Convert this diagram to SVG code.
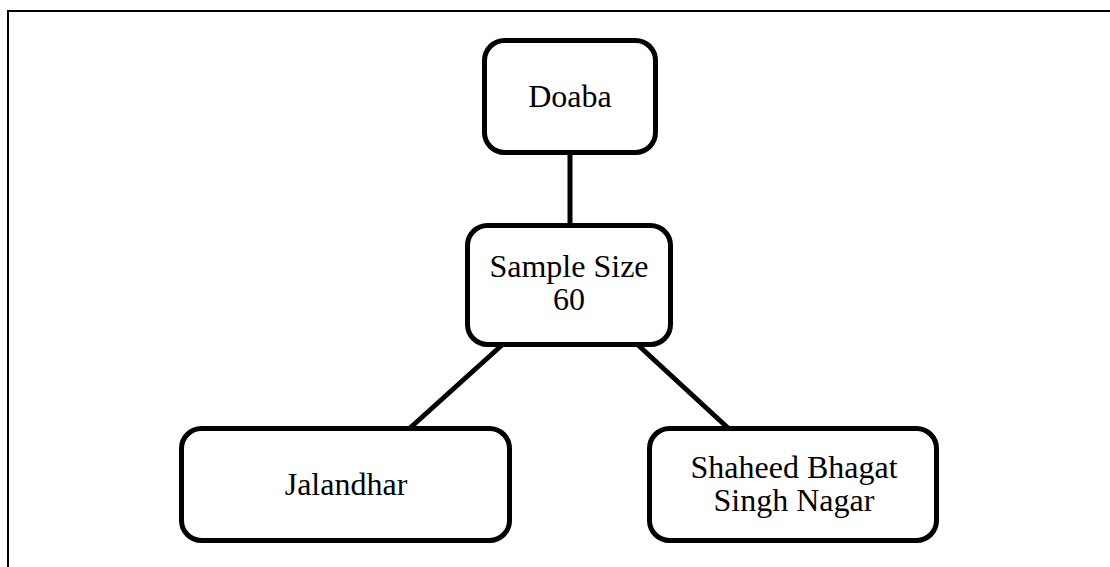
<svg xmlns="http://www.w3.org/2000/svg" width="1110" height="567" viewBox="0 0 1110 567">
  <style>
    .box { fill: #ffffff; stroke: #000000; stroke-width: 5; }
    .link { stroke: #000000; stroke-width: 5; fill: none; }
    .frame { stroke: #000000; stroke-width: 2; fill: none; }
    .label { font-family: "Liberation Serif", "Times New Roman", serif; font-size: 32px; fill: #000000; text-anchor: middle; }
  </style>
  <rect width="1110" height="567" fill="#ffffff"/>
  <!-- page frame: top and left edges only -->
  <path class="frame" d="M8,567 V11 H1110"/>
  <g id="connectors">
    <line class="link" x1="570" y1="153" x2="570" y2="226"/>
    <line class="link" x1="502" y1="345" x2="410" y2="428"/>
    <line class="link" x1="638" y1="345" x2="728" y2="428"/>
  </g>
  <g id="doaba">
    <rect class="box" x="484.5" y="40.5" width="171" height="112" rx="20"/>
    <text class="label" x="570" y="107">Doaba</text>
  </g>
  <g id="sample-size">
    <rect class="box" x="467.5" y="225.5" width="203" height="119" rx="20"/>
    <text class="label" x="569" y="277">Sample Size</text>
    <text class="label" x="569" y="310">60</text>
  </g>
  <g id="jalandhar">
    <rect class="box" x="181.5" y="428.5" width="328" height="112" rx="20"/>
    <text class="label" x="346" y="495">Jalandhar</text>
  </g>
  <g id="sbs-nagar">
    <rect class="box" x="649.5" y="428.5" width="287" height="112" rx="20"/>
    <text class="label" x="794" y="478">Shaheed Bhagat</text>
    <text class="label" x="794" y="511">Singh Nagar</text>
  </g>
</svg>
